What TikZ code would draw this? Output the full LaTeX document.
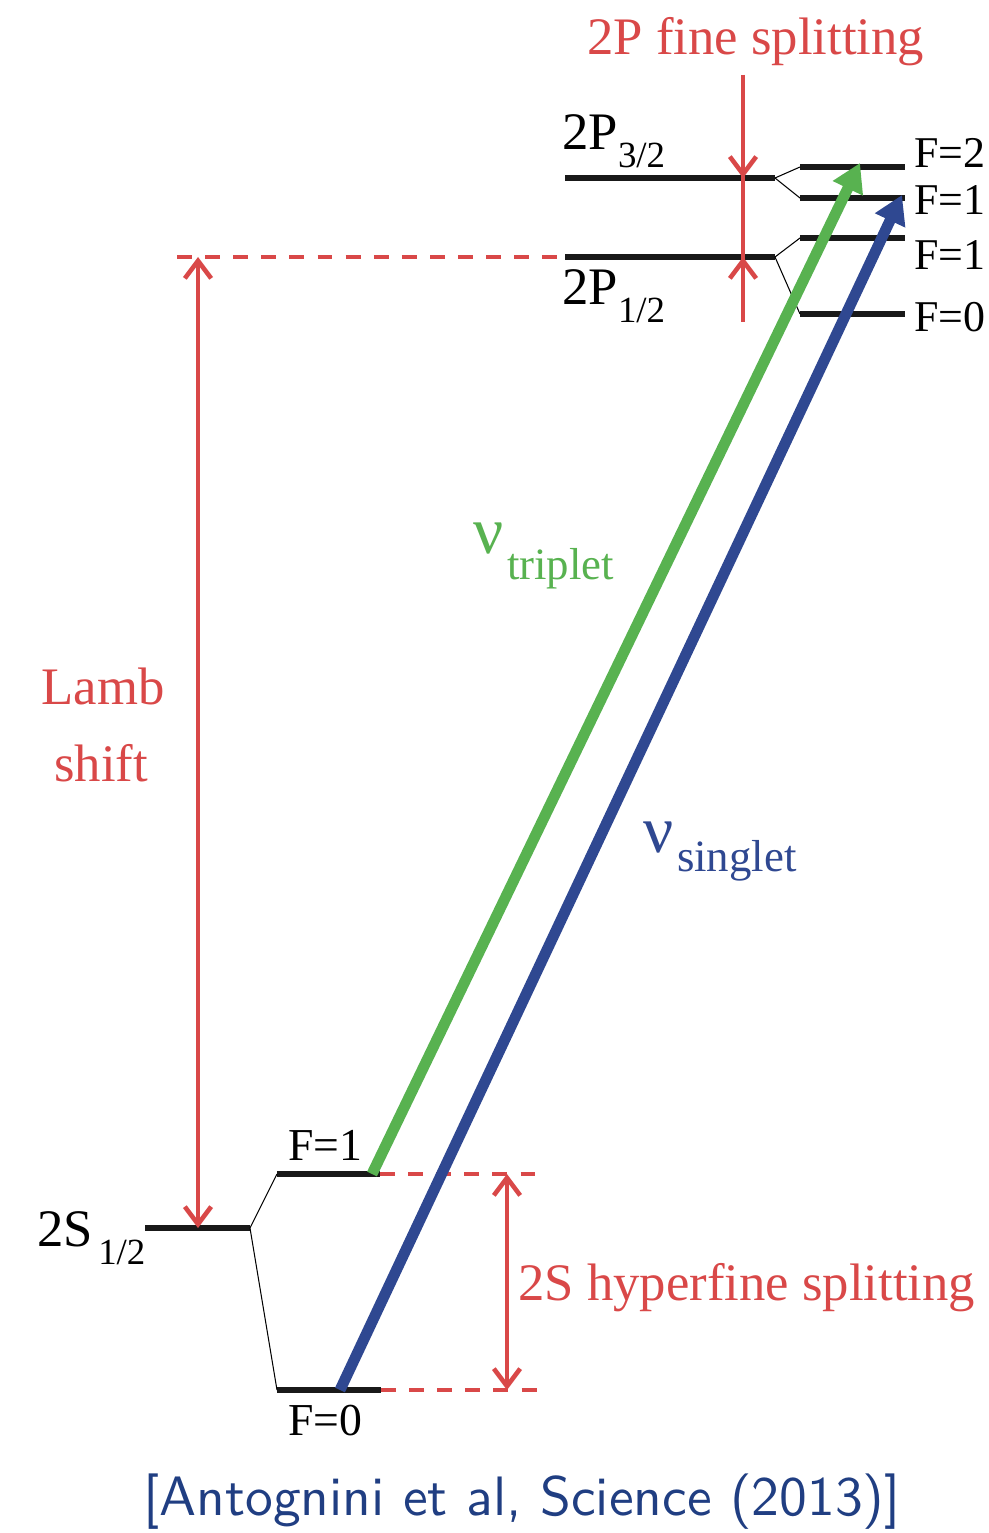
\documentclass[tikz,border=0pt]{standalone}
\usepackage{fontspec}
\setmainfont{Liberation Serif}
\newfontfamily\citefont{lmsans10-regular}[Extension=.otf]
\usetikzlibrary{arrows.meta}
\definecolor{lambred}{RGB}{217,72,72}
\definecolor{tripgreen}{RGB}{88,178,80}
\definecolor{singblue}{RGB}{47,72,145}
\definecolor{citeblue}{RGB}{32,62,130}
\newcommand{\lblfont}{\fontsize{30}{36}\selectfont}
\newcommand{\subfont}{\fontsize{21}{25}\selectfont}
\newcommand{\ffont}{\fontsize{26}{30}\selectfont}
\newcommand{\nufont}{\fontsize{38}{44}\selectfont}
\newcommand{\nusub}{\fontsize{25.5}{30}\selectfont}
\tikzset{
    redtip/.tip={Straight Barb[length=10pt,width=15pt]},
    beamtip/.tip={Triangle[length=16pt,width=18pt]},
}
\begin{document}
\begin{tikzpicture}[
    x=0.02cm, y=-0.02cm,
    level/.style={draw, line width=3.2pt, black!90},
    link/.style={draw, line width=0.6pt},
    redline/.style={draw=lambred, line width=2.6pt},
    reddash/.style={draw=lambred, line width=2.8pt, dash pattern=on 8.5pt off 7.5pt},
    beam/.style={line width=6.2pt, -beamtip},
    lbl/.style={inner sep=0pt, anchor=base west},
]
    \useasboundingbox (0,0) rectangle (989,1533);
    \clip (0,0) rectangle (989,1533);
    % 2S levels
    \coordinate (s2l) at (145,1228);
    \coordinate (s2r) at (250,1228);
    \coordinate (s1l) at (277,1174);
    \coordinate (s1r) at (380,1174);
    \coordinate (s1d) at (537,1174);
    \coordinate (s0l) at (277,1390);
    \coordinate (s0r) at (381,1390);
    \coordinate (s0d) at (538,1390);
    \draw[level] (s2l) -- (s2r);
    \draw[level] (s1l) -- (s1r);
    \draw[level] (s0l) -- (s0r);
    \draw[link] (s2r) -- (s1l);
    \draw[link] (s2r) -- (s0l);
    \draw[reddash] (s1r) -- (s1d);
    \draw[reddash] (s0r) -- (s0d);
    % 2P levels
    \coordinate (p32l) at (565,178);
    \coordinate (p32r) at (775,178);
    \coordinate (p12l) at (565,257);
    \coordinate (p12r) at (775,257);
    \draw[level] (p32l) -- (p32r);
    \draw[level] (p12l) -- (p12r);
    \foreach \name/\y in {pf2/167, pf1/198, pg1/238, pg0/314} {
        \coordinate (\name l) at (800,\y);
        \coordinate (\name r) at (905,\y);
        \draw[level] (\name l) -- (\name r);
    }
    \draw[link] (p32r) -- (pf2l);
    \draw[link] (p32r) -- (pf1l);
    \draw[link] (p12r) -- (pg1l);
    \draw[link] (p12r) -- (pg0l);
    % Lamb shift
    \coordinate (dashl) at (177,257);
    \coordinate (dashr) at (558,257);
    \coordinate (lambtop) at (198,257);
    \coordinate (lambbot) at (198,1228);
    \draw[reddash] (dashl) -- (dashr);
    \draw[redline, redtip-redtip] (lambtop) -- (lambbot);
    % fine splitting
    \coordinate (fstop) at (743,75);
    \coordinate (fsbot) at (743,322);
    \coordinate (fs32) at (743,178);
    \coordinate (fs12) at (743,257);
    \draw[redline] (fstop) -- (fsbot);
    \draw[redline, -redtip] (fstop) -- (fs32);
    \draw[redline, -redtip] (fsbot) -- (fs12);
    % hyperfine splitting
    \coordinate (hftop) at (507,1174);
    \coordinate (hfbot) at (507,1390);
    \draw[redline, redtip-redtip] (hftop) -- (hfbot);
    % transitions
    \coordinate (greenfoot) at (372,1174);
    \coordinate (greentip) at (860,163);
    \coordinate (bluefoot) at (340,1390);
    \coordinate (bluetip) at (902,195);
    \draw[beam, draw=tripgreen, fill=tripgreen] (greenfoot) -- (greentip);
    \draw[beam, draw=singblue, fill=singblue] (bluefoot) -- (bluetip);
    % labels
    \node[lbl, text=lambred] (fstxt) at (587,55) {\lblfont 2P fine splitting};
    \node[lbl] (p32txt) at (562,150) {\lblfont 2P\raisebox{-10pt}{\subfont 3/2}};
    \node[lbl] (p12txt) at (562,305) {\lblfont 2P\raisebox{-10pt}{\subfont 1/2}};
    \node[lbl] (pf2txt) at (914,168) {\fontsize{25}{30}\selectfont F=2};
    \node[lbl] (pf1txt) at (914,215) {\fontsize{25}{30}\selectfont F=1};
    \node[lbl] (pg1txt) at (914,270) {\fontsize{25}{30}\selectfont F=1};
    \node[lbl] (pg0txt) at (914,332) {\fontsize{25}{30}\selectfont F=0};
    \node[inner sep=0pt, anchor=base, text=lambred] (lambtxt) at (103,704) {\lblfont Lamb};
    \node[inner sep=0pt, anchor=base, text=lambred] (shifttxt) at (101,781) {\lblfont shift};
    \node[lbl, text=tripgreen] (triptxt) at (473,553) {\nufont ν\hspace{2pt}\raisebox{-15pt}{\nusub triplet}};
    \node[lbl, text=singblue] (singtxt) at (643,852) {\nufont ν\hspace{2pt}\raisebox{-11pt}{\nusub singlet}};
    \node[lbl] (s2txt) at (37,1246) {\lblfont 2S\hspace{3pt}\raisebox{-10.5pt}{\subfont 1/2}};
    \node[lbl] (s1txt) at (288,1160) {\ffont F=1};
    \node[lbl] (s0txt) at (288,1435) {\ffont F=0};
    \node[lbl, text=lambred] (hftxt) at (518,1300) {\lblfont 2S hyperfine splitting};
    \node[inner sep=0pt, anchor=base, text=citeblue] (cite) at (522,1515) {\citefont\fontsize{31.6}{36}\selectfont [Antognini et al, Science (2013)]};
\end{tikzpicture}
\end{document}
